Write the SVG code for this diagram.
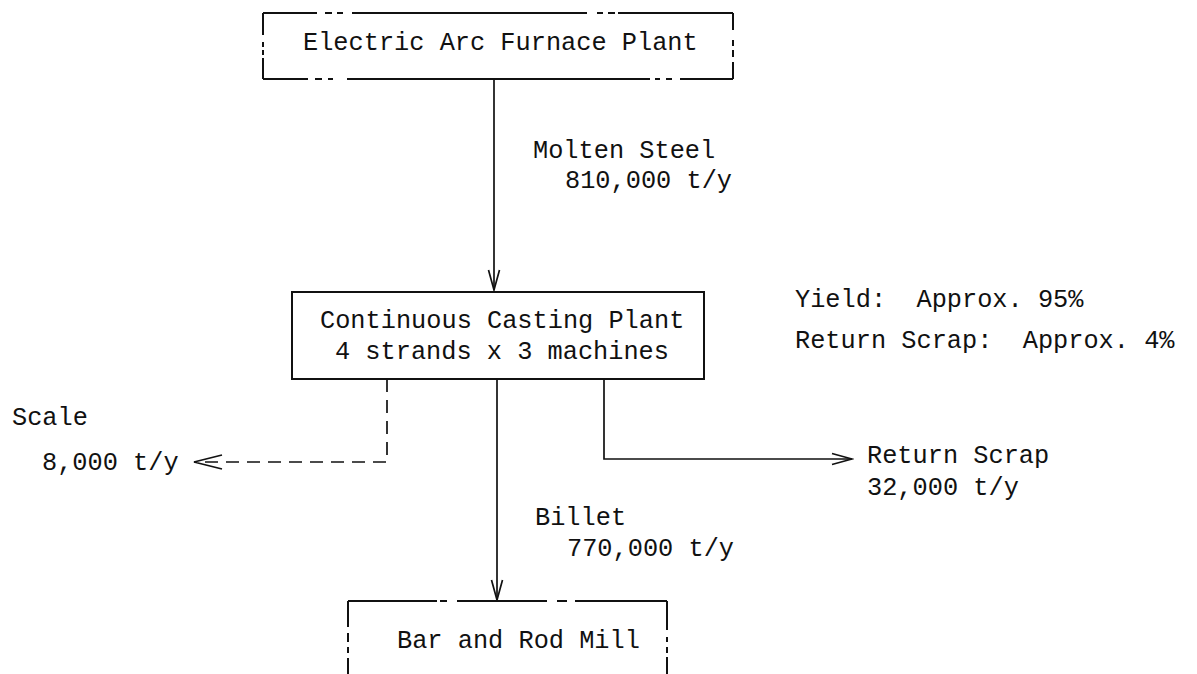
<svg xmlns="http://www.w3.org/2000/svg" width="1197" height="674" viewBox="0 0 1197 674">
<style>
  text{font-family:"Liberation Mono","Courier New",monospace;font-size:25.3px;fill:#111;white-space:pre}
  .edge{fill:none;stroke:#111;stroke-width:2;stroke-linecap:butt}
  .conn{fill:none;stroke:#111;stroke-width:1.7}
  .dash{stroke-dasharray:13 8}
</style>
<defs>
  <marker id="arr" markerUnits="userSpaceOnUse" viewBox="-22 -8 24 16" refX="0" refY="0" markerWidth="24" markerHeight="16" orient="auto">
    <path d="M -20 -5.5 L 0 0 L -20 5.5" fill="none" stroke="#111" stroke-width="1.7"/>
  </marker>
  <marker id="arrBig" markerUnits="userSpaceOnUse" viewBox="-32 -10 34 20" refX="0" refY="0" markerWidth="34" markerHeight="20" orient="auto">
    <path d="M -28 -7 L 0 0 L -28 7" fill="none" stroke="#111" stroke-width="1.7"/>
  </marker>
</defs>
<rect width="1197" height="674" fill="#fff"/>

<g id="eaf">
  <path class="edge" d="M263 13 H317 M325 13 H332 M337 13 H343 M352 13 H587 M597 13 H603 M608 13 H615 M618 13 H733
    M263 79 H308 M315 79 H322 M328 79 H333 M347 79 H650 M655 79 H660 M666 79 H672 M680 79 H733
    M263 13 V35 M263 42 V47 M263 50 V55 M263 58 V79
    M733 13 V30 M733 40 V46 M733 50 V57 M733 62 V79"/>
  <text x="303" y="50">Electric Arc Furnace Plant</text>
</g>

<g id="ccp">
  <rect class="edge" x="292" y="292" width="412" height="87"/>
  <text x="320" y="328">Continuous Casting Plant</text>
  <text x="335" y="359">4 strands x 3 machines</text>
</g>

<g id="mill">
  <path class="edge" d="M348 601 H437 M440 601 H447 M457 601 H547 M557 601 H567 M575 601 H667
    M348 601 V627 M348 633 V642 M348 647 V653 M348 658 V674
    M667 601 V630 M667 637 V642 M667 647 V653 M667 657 V674"/>
  <text x="397" y="648">Bar and Rod Mill</text>
</g>

<g id="notes">
  <text x="795" y="307" xml:space="preserve">Yield:  Approx. 95%</text>
  <text x="795" y="348" xml:space="preserve">Return Scrap:  Approx. 4%</text>
</g>

<g id="connectors">
  <path class="conn" d="M494 79 V290" marker-end="url(#arr)"/>
  <path class="conn" d="M497 379 V600" marker-end="url(#arr)"/>
  <path class="conn dash" d="M387 379 V462 H194" marker-end="url(#arrBig)"/>
  <path class="conn" d="M604 379 V459 H852" marker-end="url(#arr)"/>
</g>

<g id="labels">
  <text x="533" y="158">Molten Steel</text>
  <text x="565" y="188">810,000 t/y</text>
  <text x="535" y="525">Billet</text>
  <text x="567" y="556">770,000 t/y</text>
  <text x="12" y="425">Scale</text>
  <text x="42" y="470">8,000 t/y</text>
  <text x="867" y="463">Return Scrap</text>
  <text x="867" y="495">32,000 t/y</text>
</g>
</svg>
